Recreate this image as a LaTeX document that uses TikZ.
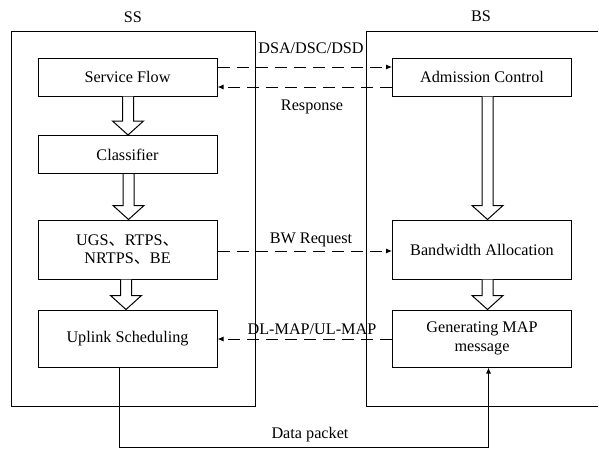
\documentclass[tikz,border=0pt]{standalone}
\usepackage{fontspec}
\setmainfont{Liberation Serif}
\newfontfamily\cjk{Noto Sans CJK SC}
\usepackage{tikz}
\usetikzlibrary{positioning,arrows.meta,calc}

\tikzset{
  blk/.style={draw,line width=1pt,minimum width=179pt,minimum height=38pt,align=center,inner sep=2pt},
  tallblk/.style={blk,minimum height=58pt},
  frame/.style={draw,line width=1pt},
  msg/.style={line width=1pt,dash pattern=on 12pt off 7pt,-{Latex[length=6pt,width=5pt]}},
  sig/.style={line width=1pt,-{Latex[length=6pt,width=5pt]}},
  lbl/.style={inner sep=1pt}
}
\newcommand{\dun}{{\cjk 、}}
% hollow block arrow from #1 down to #2, shifted by #3
\newcommand{\fatarrow}[3]{%
  \draw[line width=1pt,fill=white,line join=miter]
    ($(#1.south)+(#3-5.5,0)$) -- ($(#2.north)+(#3-5.5,-14)$) -- ($(#2.north)+(#3-15.5,-14)$)
    -- ($(#2.north)+(#3,0)$) -- ($(#2.north)+(#3+15.5,-14)$) -- ($(#2.north)+(#3+5.5,-14)$)
    -- ($(#1.south)+(#3+5.5,0)$);}

\begin{document}
\begin{tikzpicture}[x=1pt,y=-1pt,every node/.style={font=\fontsize{16.2}{18.5}\selectfont}]
  \useasboundingbox (0,0) rectangle (599,450);
  % the two stations
  \draw[frame] (11,31) rectangle (255,406);
  \draw[frame] (598,31) -- (366,31) -- (366,406) -- (598,406);
  \node (ss) at (133,17) {SS};
  \node (bs) at (481,16) {BS};

  % SS side
  \node[blk] (sf) at (127.5,77) {Service Flow};
  \node[blk] (cl) at (127.5,154.5) {Classifier};
  \node[tallblk,minimum height=59pt] (qos) at (127.5,249.5) {UGS\dun RTPS\dun\\NRTPS\dun BE};
  \node[tallblk,minimum height=57pt] (up) at (127.5,338.5) {Uplink Scheduling};

  % BS side
  \node[blk] (ac) at (482,77) {Admission Control};
  \node[tallblk,minimum height=59pt] (bw) at (482,249.5) {Bandwidth Allocation};
  \node[tallblk,minimum height=57pt] (gm) at (482,338.5) {Generating MAP\\message};

  \fatarrow{sf}{cl}{0.5}
  \fatarrow{cl}{qos}{1}
  \fatarrow{qos}{up}{-1.5}
  \fatarrow{ac}{bw}{5.5}
  \fatarrow{bw}{gm}{5.5}

  % messages
  \draw[msg] (sf.east |- 0,67) -- (ac.west |- 0,67);
  \draw[msg] (ac.west |- 0,87) -- (sf.east |- 0,87);
  \draw[msg] (qos.east |- 0,251) -- (bw.west |- 0,251);
  \draw[msg] (gm.west |- 0,339) -- (up.east |- 0,339);
  \node[lbl] (l1) at (311,48) {DSA/DSC/DSD};
  \node[lbl] (l2) at (312,107) {Response};
  \node[lbl] (l3) at (311,240) {BW Request};
  \node[lbl] (l4) at (312,329) {DL-MAP/UL-MAP};

  % data path
  \draw[sig] ([xshift=-8.5pt]up.south) -- ++(0,80) -| ([xshift=6.5pt]gm.south);
  \node[lbl] (l5) at (310,435) {Data packet};
\end{tikzpicture}
\end{document}
